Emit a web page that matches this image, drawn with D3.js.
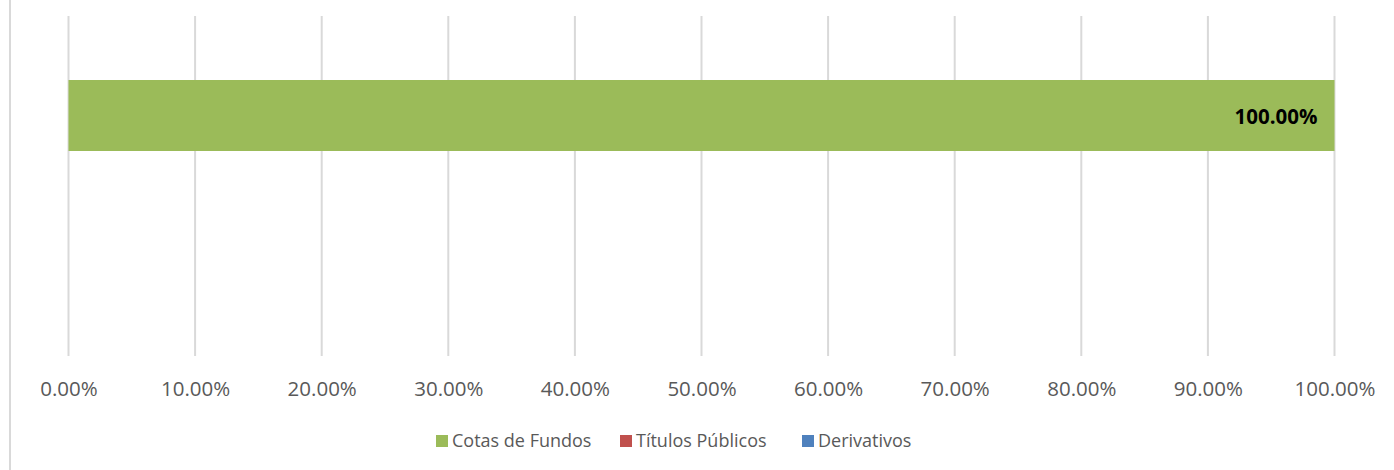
<!DOCTYPE html>
<html>
<head>
<meta charset="utf-8">
<script src="https://cdn.jsdelivr.net/npm/d3@7"></script>
<style>
  body { margin: 0; background: #fff; }
  text { font-family: "Open Sans", "Noto Sans", sans-serif; }
</style>
</head>
<body>
<div id="chart_area"></div>
<script>
var W = 1394, H = 470;

// data
var categories = ["Carteira"];
var series = ["Cotas de Fundos", "Títulos Públicos", "Derivativos"];
var cotasDeFundos = [1.00];
var titulosPublicos = [0.00];
var derivativos = [0.00];
var tickValues = [0, 0.1, 0.2, 0.3, 0.4, 0.5, 0.6, 0.7, 0.8, 0.9, 1.0];
var colours = ["#9bbb59", "#c0504d", "#4f81bd"];

var rows = categories.map(function (c, i) {
    return { cat: c, "Cotas de Fundos": cotasDeFundos[i], "Títulos Públicos": titulosPublicos[i], "Derivativos": derivativos[i] };
});
var stacked = d3.stack().keys(series)(rows);

var svg = d3.select("#chart_area")
    .append("svg")
    .attr("width", W)
    .attr("height", H);

// outer frame line on the left
svg.append("line")
    .attr("x1", 10).attr("x2", 10)
    .attr("y1", 0).attr("y2", H)
    .attr("stroke", "#d9d9d9").attr("stroke-width", 2);

var x = d3.scaleLinear().domain([0, 1]).range([68.5, 1334.5]);
var y = d3.scaleBand().domain(categories).range([80, 151]).padding(0);

var gridTop = 16, gridBottom = 356;

// gridlines
svg.append("g")
    .selectAll("line")
    .data(tickValues)
    .enter()
    .append("line")
    .attr("x1", function (d) { return x(d); })
    .attr("x2", function (d) { return x(d); })
    .attr("y1", gridTop)
    .attr("y2", gridBottom)
    .attr("stroke", "#d9d9d9")
    .attr("stroke-width", 2);

// x axis labels
var xAxis = svg.append("g")
    .attr("transform", "translate(0," + gridBottom + ")")
    .call(d3.axisBottom(x).tickValues(tickValues).tickSize(0).tickPadding(25)
        .tickFormat(function (d) { return (d * 100).toFixed(2) + "%"; }));
xAxis.select(".domain").remove();
xAxis.selectAll("text")
    .attr("fill", "#595959")
    .style("font-size", "20.5px")
    .style("font-family", "'Open Sans', sans-serif");

// bars
svg.append("g")
    .selectAll("g")
    .data(stacked)
    .enter()
    .append("g")
    .attr("fill", function (d, i) { return colours[i]; })
    .selectAll("rect")
    .data(function (d) { return d; })
    .enter()
    .append("rect")
    .attr("x", function (d) { return x(d[0]); })
    .attr("y", function (d) { return y(d.data.cat); })
    .attr("width", function (d) { return x(d[1]) - x(d[0]); })
    .attr("height", y.bandwidth());

// data label
svg.append("g")
    .selectAll("text")
    .data(stacked[0])
    .enter()
    .append("text")
    .attr("x", function (d) { return x(d[1]) - 17; })
    .attr("y", function (d) { return y(d.data.cat) + y.bandwidth() / 2 + 1; })
    .attr("dy", "0.35em")
    .attr("text-anchor", "end")
    .attr("fill", "#000")
    .style("font-size", "20.5px")
    .style("font-weight", "bold")
    .text(function (d) { return ((d[1] - d[0]) * 100).toFixed(2) + "%"; });

// legend
var legendX = [436, 620, 802];
var legend = svg.append("g")
    .selectAll("g")
    .data(series)
    .enter()
    .append("g")
    .attr("transform", function (d, i) { return "translate(" + legendX[i] + ",441)"; });
legend.append("rect")
    .attr("x", 0).attr("y", -6)
    .attr("width", 12).attr("height", 12)
    .attr("fill", function (d, i) { return colours[i]; });
legend.append("text")
    .attr("x", 16).attr("y", 0)
    .attr("dy", "0.35em")
    .attr("fill", "#595959")
    .style("font-size", "18px")
    .text(function (d) { return d; });
</script>
</body>
</html>
